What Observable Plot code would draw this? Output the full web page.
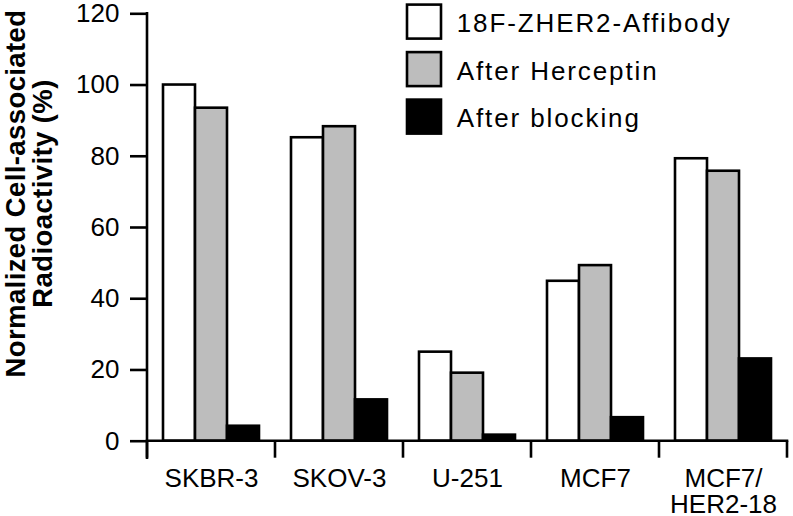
<!DOCTYPE html>
<html>
<head>
<meta charset="utf-8">
<script src="https://cdn.jsdelivr.net/npm/d3@7"></script>
<script src="https://cdn.jsdelivr.net/npm/@observablehq/plot@0.6"></script>
<style>
  html, body { margin: 0; padding: 0; background: #fff; }
  #chart svg { display: block; overflow: visible; }
</style>
</head>
<body>
<div id="chart"></div>
<script>
const categories = ["SKBR-3", "SKOV-3", "U-251", "MCF7", "MCF7/HER2-18"];
const categoryLabels = ["SKBR-3", "SKOV-3", "U-251", "MCF7", "MCF7/\nHER2-18"];
const series = ["18F-ZHER2-Affibody", "After Herceptin", "After blocking"];
const seriesColors = ["#ffffff", "#bdbdbd", "#000000"];
const affibody = [100, 85.2, 25.0, 44.9, 79.3];
const herceptin = [93.5, 88.3, 19.1, 49.3, 75.8];
const blocking = [4.2, 11.6, 1.7, 6.6, 23.1];
const yTicks = [0, 20, 40, 60, 80, 100, 120];
const yLabelLines = ["Normalized Cell-associated", "Radioactivity (%)"];

const seriesValues = [affibody, herceptin, blocking];
const data = [];
categories.forEach((c, i) => {
  series.forEach((s, j) => data.push({cat: c, series: s, value: seriesValues[j][i]}));
});

const FONT = "'Liberation Sans', Arial, Helvetica, sans-serif";
const SW = 2.6;

const plot = Plot.plot({
  width: 793,
  height: 516,
  marginLeft: 145,
  marginRight: 5,
  marginTop: 13.3,
  marginBottom: 75.3,
  style: {fontFamily: FONT, fontSize: "26px", color: "#000", background: "#fff"},
  fx: {domain: categories, paddingInner: 0, paddingOuter: 0, label: null},
  x: {domain: series, paddingInner: 0, paddingOuter: 0.45, axis: null},
  y: {domain: [0, 120], label: null},
  color: {domain: series, range: seriesColors},
  marks: [
    Plot.barY(data, {fx: "cat", x: "series", y: "value", fill: "series", stroke: "#000", strokeWidth: SW}),
    Plot.axisY({ticks: yTicks, tickSize: 17, tickPadding: 11, strokeWidth: SW, label: null, fontSize: 26}),
    Plot.axisFx({anchor: "bottom", tickSize: 0, tickPadding: 27.5, label: null, fontSize: 26,
      tickFormat: d => categoryLabels[categories.indexOf(d)]})
  ]
});

document.getElementById("chart").appendChild(plot);

// axis lines, boundary ticks, y label, legend
const svg = d3.select(plot);
const fx = plot.scale("fx");
const ys = plot.scale("y");
const bw = fx.bandwidth;
const y0 = ys.apply(0), yTop = ys.apply(120);
const bounds = categories.map(c => fx.apply(c)).concat([fx.apply(categories[categories.length - 1]) + bw]);
const g = svg.append("g").attr("stroke", "#000").attr("stroke-width", SW).attr("fill", "none");
g.append("line").attr("x1", bounds[0]).attr("x2", bounds[0]).attr("y1", yTop).attr("y2", y0 + 17).attr("stroke-linecap", "square");
g.append("line").attr("x1", bounds[0]).attr("x2", bounds[bounds.length - 1]).attr("y1", y0).attr("y2", y0).attr("stroke-linecap", "square");
bounds.forEach(b => g.append("line").attr("x1", b).attr("x2", b).attr("y1", y0).attr("y2", y0 + 17));

const yl = svg.append("text")
  .attr("transform", "translate(25,193.5) rotate(-90)")
  .attr("text-anchor", "middle")
  .attr("letter-spacing", 0.4)
  .attr("font-family", FONT).attr("font-weight", "bold").attr("font-size", 27.5).attr("fill", "#000");
yLabelLines.forEach((t, i) => yl.append("tspan").attr("x", 0).attr("y", i * 27).text(t));

const color = plot.scale("color");
const lg = svg.append("g").attr("font-family", FONT).attr("font-size", 26).attr("text-anchor", "start");
series.forEach((s, i) => {
  const top = 4.6 + i * 47.5;
  lg.append("rect").attr("x", 407).attr("y", top).attr("width", 34).attr("height", 34)
    .attr("fill", color.apply(s)).attr("stroke", "#000").attr("stroke-width", SW);
  lg.append("text").attr("x", 456.7).attr("y", top + 27.5).attr("fill", "#000")
    .attr("text-anchor", "start").attr("letter-spacing", 1.9).text(s);
});
</script>
</body>
</html>
